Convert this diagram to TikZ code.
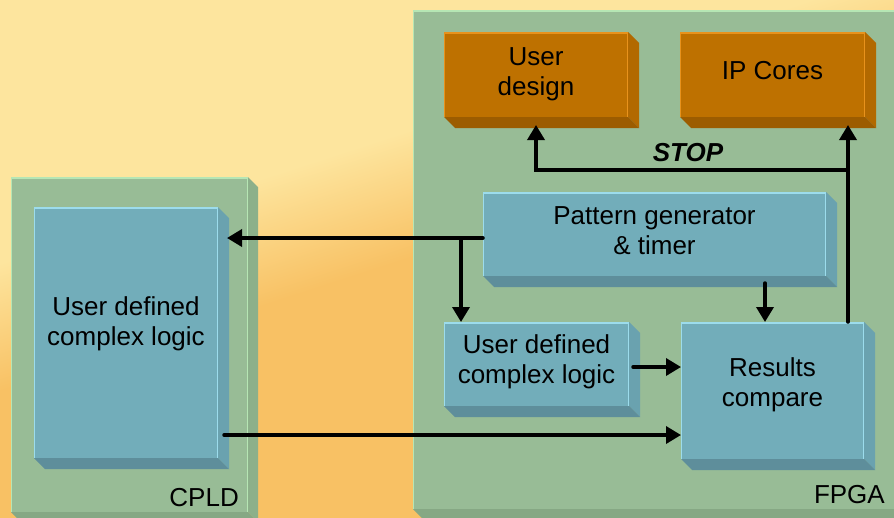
\documentclass[tikz,border=0pt]{standalone}
\usepackage{fontspec}
\setmainfont{Liberation Sans}
\usetikzlibrary{arrows.meta,calc}
\definecolor{bgY}{HTML}{FDE59E}
\definecolor{bgO}{HTML}{F8C164}
\definecolor{grF}{HTML}{98BC96}
\definecolor{grS}{HTML}{8CB08A}
\definecolor{grB}{HTML}{86A884}
\definecolor{grH}{HTML}{B6E6B4}
\definecolor{blF}{HTML}{72ADBA}
\definecolor{blS}{HTML}{6AA2AF}
\definecolor{blB}{HTML}{5E8E9B}
\definecolor{blH}{HTML}{9CDCEC}
\definecolor{orF}{HTML}{BE7100}
\definecolor{orS}{HTML}{B26900}
\definecolor{orB}{HTML}{9C5C00}
\definecolor{orH}{HTML}{E8921C}
\pgfdeclareverticalshading{bgshade}{100bp}{color(0bp)=(bgO); color(51bp)=(bgO); color(61bp)=(bgY); color(100bp)=(bgY)}
\newcommand\mybevel[5]{%
  \fill[#3] (#1.north east) -- ($(#1.north east)+(#2,#2)$) -- ($(#1.south east)+(#2,#2)$) -- (#1.south east) -- cycle;
  \fill[#4] (#1.south west) -- (#1.south east) -- ($(#1.south east)+(#2,#2)$) -- ($(#1.south west)+(#2,#2)$) -- cycle;
  \draw[#5, line width=2pt] ([yshift=-1pt]#1.north west) -- ([yshift=-1pt]#1.north east);
  \draw[#5, line width=1pt] ([xshift=0.5pt]#1.north west) -- ([xshift=0.5pt]#1.south west);
  \draw[#5, line width=0.8pt] ([xshift=-0.4pt]#1.north east) -- ([xshift=-0.4pt]#1.south east);
}
\begin{document}
\begin{tikzpicture}[x=1pt, y=-1pt,
  font=\fontsize{26}{30}\selectfont,
  face/.style={inner sep=0pt, outer sep=0pt, draw=none},
  greenbox/.style={face, fill=grF},
  bluebox/.style={face, fill=blF},
  orangebox/.style={face, fill=orF},
  txt/.style={align=center, inner sep=0pt, font=\fontsize{26}{30}\selectfont},
  wire/.style={line width=3.5pt, line cap=round},
  arr/.style={wire, -{Triangle[width=17pt,length=15pt]}}]
\useasboundingbox (0,0) rectangle (894,517);
\clip (0,0) rectangle (894,517);
\shade[shading=bgshade, shading angle=18] (0,0) rectangle (894,517);

% containers
\node[greenbox, minimum width=237pt, minimum height=335pt] (cpld) at (129.5,344.5) {};
\mybevel{cpld}{10}{grS}{grB}{grH}
\node[greenbox, minimum width=500pt, minimum height=499pt] (fpga) at (663,259.5) {};
\mybevel{fpga}{10}{grS}{grB}{grH}

% CPLD logic
\node[bluebox, minimum width=184pt, minimum height=251pt,
  label={[txt, name=cltext, yshift=8.5pt]center:User defined\\complex logic}] (cl) at (126,332.5) {};
\mybevel{cl}{11}{blS}{blB}{blH}

% FPGA content
\node[orangebox, minimum width=184pt, minimum height=85pt,
  label={[txt, name=udtext, yshift=0.5pt]center:User\\design}] (ud) at (536,74.5) {};
\mybevel{ud}{11}{orS}{orB}{orH}
\node[orangebox, minimum width=185pt, minimum height=85pt,
  label={[txt, name=iptext, yshift=4pt]center:IP Cores}] (ip) at (772.5,74.5) {};
\mybevel{ip}{11}{orS}{orB}{orH}
\node[bluebox, minimum width=343pt, minimum height=84pt,
  label={[txt, name=pgtext, yshift=3pt]center:Pattern generator\\\& timer}] (pg) at (654.5,234) {};
\mybevel{pg}{11}{blS}{blB}{blH}
\node[bluebox, minimum width=185pt, minimum height=84pt,
  label={[txt, name=ultext, yshift=2.5pt]center:User defined\\complex logic}] (ul) at (536.5,364) {};
\mybevel{ul}{11}{blS}{blB}{blH}
\node[bluebox, minimum width=183pt, minimum height=137pt,
  label={[txt, name=rctext, yshift=6pt]center:Results\\compare}] (rc) at (772.5,390.5) {};
\mybevel{rc}{11}{blS}{blB}{blH}

% labels
\node[txt, anchor=base east] (cpldlbl) at ($(cpld.south east)+(-9,-6)$) {CPLD};
\node[txt, anchor=base east] (fpgalbl) at (885,503) {FPGA};
\node[txt, font=\fontsize{26}{30}\selectfont\bfseries\itshape] (stop) at (688,153) {STOP};

% connectors
\coordinate (pgout) at ([yshift=-4pt]pg.west);
\coordinate (clin) at ([xshift=9pt]cl.east |- pgout);
\draw[arr] (pgout) -- (clin);
\coordinate (j) at ($(pgout)+(-22,0)$);
\draw[arr] (j) -- (j |- ul.north);
\draw[arr] ([shift={(84pt,39pt)}]rc.north west) -- ([xshift=84pt]rc.north west);
\coordinate (ulout) at ([xshift=4pt,yshift=-3pt]ul.east);
\draw[arr] (ulout) -- (ulout -| rc.west);
\coordinate (clout) at ([xshift=6pt,yshift=-102.5pt]cl.east);
\draw[arr] (clout) -- (clout -| rc.west);
\coordinate (rcout) at ([xshift=-16pt]rc.north east);
\coordinate (stopR) at (rcout |- 0,170);
\coordinate (ipin) at ([yshift=-8pt]ip.south);
\coordinate (udin) at ([yshift=-8pt]ud.south);
\draw[arr] (rcout) -- (rcout |- ipin);
\draw[arr] (stopR) -- (stopR -| udin) -- (udin);
\end{tikzpicture}
\end{document}
